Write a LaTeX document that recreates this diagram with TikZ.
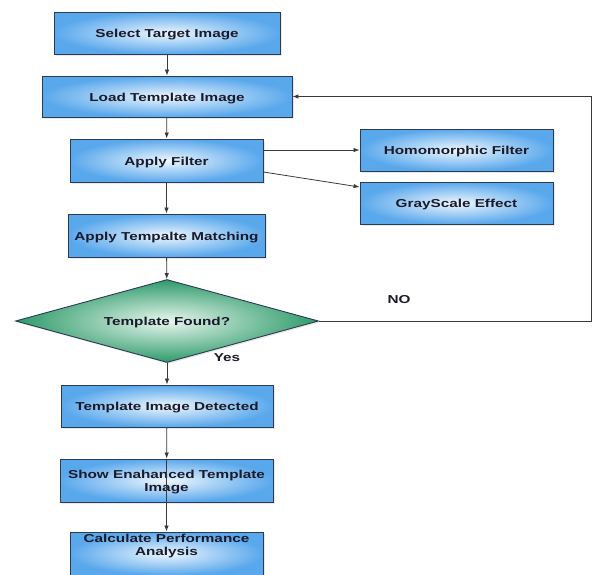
\documentclass[tikz,border=0pt]{standalone}
\usepackage{fontspec}
\setmainfont{Liberation Sans}[FakeStretch=1.33]
\usetikzlibrary{arrows.meta,shapes.geometric,shadows}
\definecolor{boxin}{HTML}{EEF7FE}
\definecolor{boxout}{HTML}{5AA8EC}
\definecolor{decin}{HTML}{E8F7EE}
\definecolor{decout}{HTML}{2E9A6A}
\definecolor{edge}{HTML}{2B3A55}
\definecolor{conn}{HTML}{3A3A3A}
\definecolor{txt}{HTML}{1A1A2A}
\tikzset{
  lbl/.style={font=\bfseries\fontsize{11.5}{13.5}\selectfont, text=txt},
  procbox/.style={lbl, rectangle, draw=edge, line width=0.9pt, shading=radial,
    inner color=boxin, outer color=boxout, align=center, inner sep=2pt,
    drop shadow={shadow xshift=1.5pt, shadow yshift=-1.5pt, opacity=0.18}},
  oneline/.style={text height=12pt, text depth=2.5pt},
  decbox/.style={lbl, diamond, aspect=3.65, draw=edge, line width=0.9pt, shading=radial,
    inner color=decin, outer color=decout, inner sep=1pt,
    minimum width=303pt, minimum height=83pt, text height=12pt, text depth=2.5pt,
    drop shadow={shadow xshift=1.5pt, shadow yshift=-1.5pt, opacity=0.18}},
  conn/.style={draw=conn, line width=0.8pt},
  arr/.style={conn, -{Latex[length=6pt,width=4.5pt]}}
}
\begin{document}
\begin{tikzpicture}[x=1pt,y=-1pt]
\fill[white] (0,0) rectangle (592,574);
\useasboundingbox (0,0) rectangle (592,574);
\clip (0,0) rectangle (592,574);

\node[procbox, oneline, minimum width=226pt, minimum height=42pt] (sel) at (167,33) {Select Target Image};
\node[procbox, oneline, minimum width=250pt, minimum height=41pt] (load) at (167,96.5) {Load Template Image};
\node[procbox, oneline, minimum width=193pt, minimum height=43pt] (filt) at (166.5,160.5) {Apply Filter};
\node[procbox, oneline, minimum width=193pt, minimum height=42pt] (homo) at (456.5,150) {Homomorphic Filter};
\node[procbox, oneline, minimum width=193pt, minimum height=42pt] (gray) at (456.5,203) {GrayScale Effect};
\node[procbox, oneline, minimum width=197pt, minimum height=43pt] (match) at (166.5,235.5) {Apply Tempalte Matching};
\node[decbox] (dec) at (167,321) {Template Found?};
\node[procbox, oneline, minimum width=212pt, minimum height=42pt] (det) at (167,406) {Template Image Detected};
\node[procbox, minimum width=213pt, minimum height=43pt, text height=25pt] (show) at (166.5,480.5) {Show Enahanced Template\\Image};
\node[procbox, minimum width=193pt, minimum height=43pt, text depth=17pt] (calc) at (166.5,553.5) {Calculate Performance\\Analysis};

\node[lbl] (yes) at (227,358) {Yes};
\node[lbl] (no) at (399,300) {NO};

\coordinate (c1) at (591,321);
\coordinate (c2) at (591,96.5);

\draw[arr] (sel) -- (load);
\draw[arr] (load) -- (filt);
\draw[arr] ([yshift=10.5pt]filt.east) -- (homo.west);
\draw[arr] ([yshift=-11.5pt]filt.east) -- ([yshift=16pt]gray.west);
\draw[arr] (filt) -- (match);
\draw[arr] (match) -- (dec);
\draw[arr] (dec) -- (det);
\draw[arr] (det) -- (show);
\draw[arr] (show.north) -- (calc.north);
\draw[arr] (dec.east) -- (c1) -- (c2) -- (load.east);
\end{tikzpicture}
\end{document}
